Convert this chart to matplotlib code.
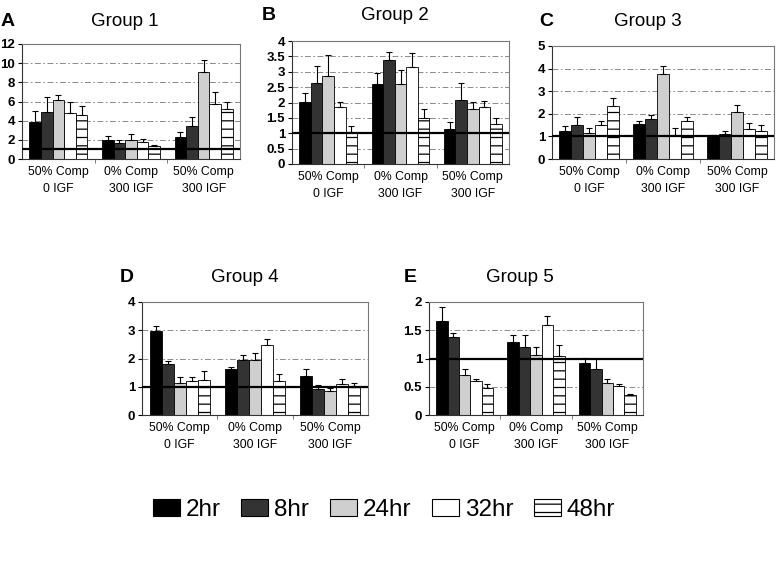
import numpy as np
import matplotlib
matplotlib.use('Agg')
import matplotlib.pyplot as plt
from matplotlib.patches import Patch
from matplotlib.ticker import FuncFormatter

plt.rcParams['font.family'] = ['Liberation Sans', 'DejaVu Sans']
plt.rcParams['hatch.linewidth'] = 0.9

# data: bar height and upper error per time point
categories = ['50% Comp\n0 IGF', '0% Comp\n300 IGF', '50% Comp\n300 IGF']
times = ['2hr', '8hr', '24hr', '32hr', '48hr']

g1_vals = [[3.83, 2.02, 2.26], [4.87, 1.67, 3.41], [6.19, 1.95, 9.04],
           [4.80, 1.74, 5.74], [4.63, 1.39, 5.22]]
g1_err = [[1.21, 0.35, 0.56], [1.56, 0.28, 0.94], [0.52, 0.65, 1.26],
          [1.11, 0.38, 1.22], [0.87, 0.11, 0.69]]

g2_vals = [[2.03, 2.59, 1.15], [2.63, 3.38, 2.09], [2.86, 2.61, 1.79],
           [1.84, 3.17, 1.84], [1.03, 1.49, 1.30]]
g2_err = [[0.29, 0.38, 0.21], [0.57, 0.27, 0.54], [0.69, 0.45, 0.22],
          [0.17, 0.43, 0.22], [0.19, 0.29, 0.21]]

g3_vals = [[1.25, 1.54, 1.04], [1.51, 1.78, 1.10], [1.15, 3.75, 2.06],
           [1.49, 1.07, 1.32], [2.35, 1.66, 1.25]]
g3_err = [[0.19, 0.15, 0.0], [0.33, 0.15, 0.16], [0.22, 0.38, 0.31],
          [0.20, 0.30, 0.27], [0.37, 0.18, 0.26]]

g4_vals = [[2.96, 1.62, 1.38], [1.80, 1.95, 0.92], [1.12, 1.95, 0.85],
           [1.22, 2.49, 1.09], [1.24, 1.22, 1.03]]
g4_err = [[0.18, 0.07, 0.24], [0.12, 0.18, 0.15], [0.24, 0.26, 0.10],
          [0.14, 0.20, 0.19], [0.32, 0.22, 0.09]]

g5_vals = [[1.67, 1.30, 0.92], [1.38, 1.20, 0.81], [0.71, 1.07, 0.56],
           [0.60, 1.59, 0.52], [0.47, 1.04, 0.36]]
g5_err = [[0.25, 0.12, 0.09], [0.07, 0.22, 0.18], [0.10, 0.13, 0.08],
          [0.04, 0.17, 0.02], [0.08, 0.20, 0.02]]

face = ['black', '#333333', '#cfcfcf', 'white', 'white']
hatch = [None, None, None, None, '--']

W, H = 784, 587
fig = plt.figure(figsize=(W / 100, H / 100), dpi=100)


def px_axes(x0, y0, x1, y1):
    return fig.add_axes([x0 / W, 1 - y1 / H, (x1 - x0) / W, (y1 - y0) / H])


def panel(ax, vals, errs, ymax, step):
    x = np.arange(len(categories))
    bw = 0.16
    for i in range(len(times)):
        pos = x + (i - 2) * bw
        ax.bar(pos, vals[i], bw, color=face[i], edgecolor='black',
               linewidth=0.6, hatch=hatch[i], zorder=2)
        ax.errorbar(pos, vals[i], yerr=[np.zeros(3), errs[i]], fmt='none',
                    ecolor='black', elinewidth=0.8, capsize=2.5,
                    capthick=0.8, zorder=3)
    ax.axhline(1, color='black', lw=1.6, zorder=4)
    ax.set_xlim(-0.5, 2.5)
    ax.set_ylim(0, ymax)
    ax.set_yticks(np.arange(0, ymax + step / 2, step))
    ax.yaxis.set_major_formatter(FuncFormatter(lambda v, p: '%g' % v))
    ax.yaxis.grid(True, linestyle=(0, (7, 3, 2, 3)), color='#777777', lw=0.6,
                  zorder=0)
    ax.set_xticks(x)
    ax.set_xticklabels(categories, fontsize=8.8, linespacing=1.6)
    ax.set_xticks([0.5, 1.5], minor=True)
    ax.tick_params(axis='x', which='major', length=0, pad=5)
    ax.tick_params(axis='x', which='minor', length=3, color='#666666')
    ax.tick_params(axis='y', length=3, labelsize=9.5, pad=2)
    for t in ax.get_yticklabels():
        t.set_fontweight('bold')
    for s in ax.spines.values():
        s.set_color('#777777')
        s.set_linewidth(0.8)
    ax.spines['left'].set_color('#333333')
    ax.spines['bottom'].set_color('#333333')


def label(x, y, letter, tx, title):
    fig.text(x / W, 1 - y / H, letter, fontsize=14, fontweight='bold',
             va='center', ha='left')
    fig.text(tx / W, 1 - y / H, title, fontsize=13.5, va='center',
             ha='center')


axA = px_axes(22, 44, 240, 159)
panel(axA, g1_vals, g1_err, 12, 2)
label(1, 22, 'A', 125, 'Group 1')

axB = px_axes(292, 41, 509, 164)
panel(axB, g2_vals, g2_err, 4, 0.5)
label(262, 15, 'B', 395, 'Group 2')

axC = px_axes(552, 46, 774, 159)
panel(axC, g3_vals, g3_err, 5, 1)
label(539, 22, 'C', 648, 'Group 3')

axD = px_axes(142, 302, 368, 415)
panel(axD, g4_vals, g4_err, 4, 1)
label(120, 277, 'D', 245, 'Group 4')

axE = px_axes(429, 302, 643, 415)
panel(axE, g5_vals, g5_err, 2, 0.5)
label(404, 277, 'E', 520, 'Group 5')

handles = [Patch(facecolor=face[i], edgecolor='black', linewidth=0.8,
                 hatch=hatch[i], label=times[i]) for i in range(len(times))]
fig.legend(handles=handles, loc='center', bbox_to_anchor=(384 / W, 1 - 510 / H),
           ncol=5, frameon=False, fontsize=17.5, handlelength=1.1,
           handleheight=0.72, handletextpad=0.25, columnspacing=0.85)

fig.savefig('out.png', dpi=100)
